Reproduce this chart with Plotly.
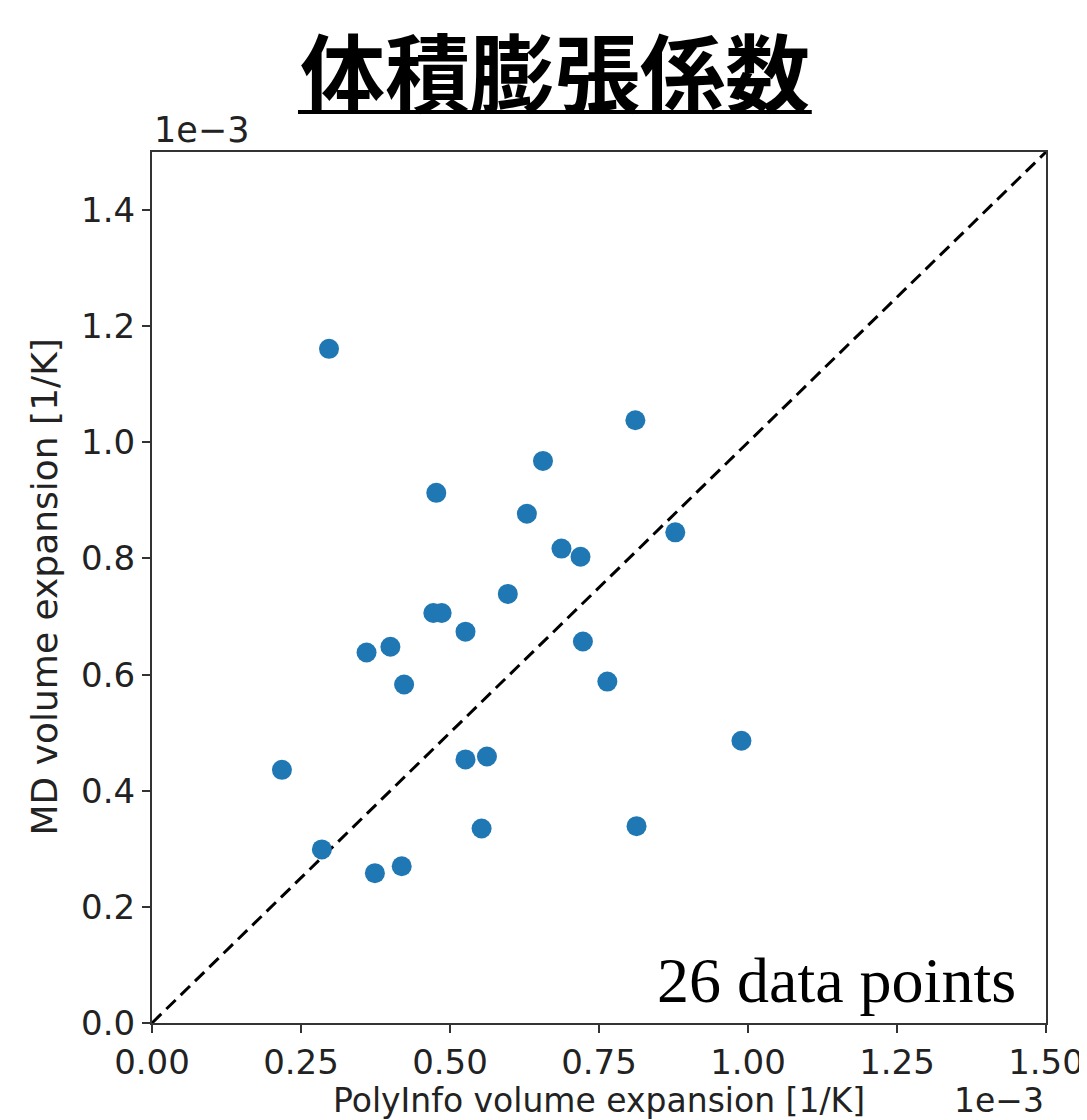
import plotly.graph_objects as go

# values in units of 1e-3 [1/K]
polyinfo = [0.297, 0.811, 0.656, 0.477, 0.629, 0.878, 0.687, 0.719, 0.597, 0.472,
            0.486, 0.526, 0.723, 0.360, 0.400, 0.423, 0.764, 0.989, 0.218, 0.526,
            0.562, 0.553, 0.813, 0.285, 0.374, 0.419]
md = [1.161, 1.038, 0.968, 0.913, 0.877, 0.845, 0.817, 0.803, 0.739, 0.706,
      0.706, 0.674, 0.657, 0.638, 0.648, 0.583, 0.588, 0.486, 0.436, 0.454,
      0.459, 0.335, 0.339, 0.299, 0.258, 0.270]
x_ticks = [0.0, 0.25, 0.5, 0.75, 1.0, 1.25, 1.5]
x_tick_labels = ["0.00", "0.25", "0.50", "0.75", "1.00", "1.25", "1.50"]
y_ticks = [0.0, 0.2, 0.4, 0.6, 0.8, 1.0, 1.2, 1.4]
y_tick_labels = ["0.0", "0.2", "0.4", "0.6", "0.8", "1.0", "1.2", "1.4"]
axis_range = [0.0, 1.5]
diag = [axis_range[0], axis_range[1]]

title_text = "体積膨張係数"
x_label = "PolyInfo volume expansion [1/K]"
y_label = "MD volume expansion [1/K]"
offset_text = "1e−3"
note = "26 data points"

fig = go.Figure()
fig.add_trace(go.Scatter(x=diag, y=diag, mode="lines",
                         line=dict(color="black", width=3, dash="13px,7px"),
                         showlegend=False, hoverinfo="skip"))
fig.add_trace(go.Scatter(x=polyinfo, y=md, mode="markers",
                         marker=dict(color="#1f77b4", size=20, line=dict(width=0)),
                         showlegend=False, cliponaxis=False))

tickfont = dict(family="DejaVu Sans", size=34, color="#222")
axis_common = dict(range=axis_range, showgrid=False, zeroline=False, showline=True,
                   mirror=True, linecolor="#333", linewidth=2, ticks="outside",
                   ticklen=8, tickwidth=2, tickcolor="#333", tickfont=tickfont,
                   automargin=False)
fig.update_xaxes(tickvals=x_ticks, ticktext=x_tick_labels, **axis_common)
fig.update_yaxes(tickvals=y_ticks, ticktext=y_tick_labels, **axis_common)

fig.update_layout(
    width=1087, height=1120,
    margin=dict(l=144, r=49, t=144, b=105),
    paper_bgcolor="white", plot_bgcolor="white",
    annotations=[
        dict(text="<b>" + title_text + "</b>", xref="paper", yref="paper",
             x=0.4508, y=1.0953, xanchor="center", yanchor="middle", showarrow=False,
             font=dict(family="Noto Sans CJK JP", size=85, color="black")),
        dict(text=x_label, xref="paper", yref="paper", x=0.5, y=-0.0885,
             xanchor="center", yanchor="middle", showarrow=False,
             font=dict(family="DejaVu Sans", size=33, color="#222")),
        dict(text=y_label, xref="paper", yref="paper", x=-0.1208, y=0.5,
             xanchor="center", yanchor="middle", textangle=-90, showarrow=False,
             font=dict(family="DejaVu Sans", size=36, color="#222")),
        dict(text=offset_text, xref="paper", yref="paper", x=0.0, y=1.0,
             xanchor="left", yanchor="bottom", showarrow=False,
             font=dict(family="DejaVu Sans", size=35, color="#222")),
        dict(text=offset_text, xref="paper", yref="paper", x=1.0, y=-0.0885,
             xanchor="right", yanchor="middle", showarrow=False,
             font=dict(family="DejaVu Sans", size=33, color="#222")),
        dict(text=note, xref="paper", yref="paper", x=0.9687, y=0.0057,
             xanchor="right", yanchor="bottom", showarrow=False,
             font=dict(family="Liberation Serif", size=64, color="black")),
    ],
    shapes=[dict(type="line", xref="paper", yref="paper", x0=0.1633, x1=0.738,
                 y0=1.046, y1=1.046, line=dict(color="black", width=4))],
)

fig.write_html("out.html")
